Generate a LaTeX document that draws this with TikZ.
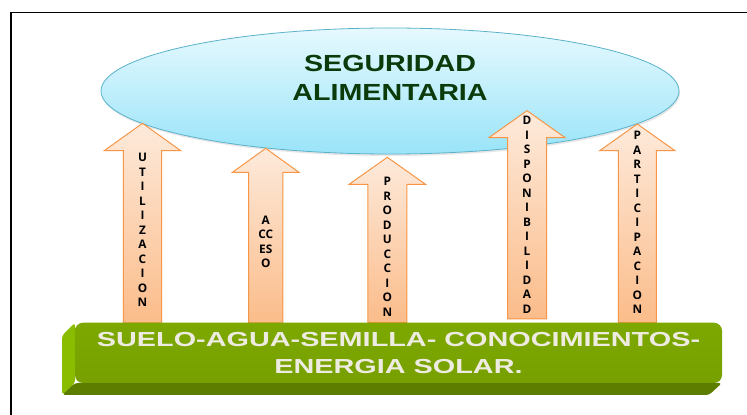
\documentclass[tikz,border=0pt]{standalone}
\usepackage{fontspec}
\usetikzlibrary{shapes.geometric,shadows}
\newfontfamily\titlefont[FakeStretch=1.23]{Liberation Sans}
\newfontfamily\barfont[FakeStretch=1.42]{Liberation Sans}
\newfontfamily\letterfont{Open Sans}
\definecolor{titlegreen}{HTML}{0B3B0B}
\definecolor{ellline}{HTML}{5AB2CB}
\definecolor{elltop}{HTML}{E6F9FE}
\definecolor{ellbot}{HTML}{9AE4F9}
\definecolor{arrowline}{HTML}{F79646}
\definecolor{arrowtop}{HTML}{FDEADB}
\definecolor{arrowbot}{HTML}{FBBC8A}
\definecolor{barface}{HTML}{77A000}
\definecolor{barfacetop}{HTML}{7DA800}
\definecolor{barside}{HTML}{8ABD00}
\definecolor{barbottom}{HTML}{5D7D00}
\definecolor{bartext}{HTML}{EEEBE1}

\begin{document}
\begin{tikzpicture}[x=1pt,y=1pt,
    arrowbox/.style={draw=arrowline,line width=1pt,top color=arrowtop,bottom color=arrowbot},
    lettertxt/.style={font=\letterfont\bfseries\fontsize{11.8}{14.5}\selectfont,align=center,inner sep=0pt,text=black}]
    \providecommand{\titlesize}{\fontsize{23.3}{29}\selectfont}
    \providecommand{\barsize}{\fontsize{20.3}{27}\selectfont}
    % block arrow: x, bottom, head base, tip, shaft half width, head half width
    \providecommand{\uparr}[6]{\path[arrowbox] (#1-#5,#2) -- (#1-#5,#3) -- (#1-#6,#3) -- (#1,#4) -- (#1+#6,#3) -- (#1+#5,#3) -- (#1+#5,#2) -- cycle;}
    \useasboundingbox (0,0) rectangle (747,415);
    \draw[line width=1.8pt] (11,0) -- (11,402.5) -- (747,402.5);

    \node[ellipse,draw=ellline,line width=0.8pt,top color=elltop,bottom color=ellbot,
        minimum width=578pt,minimum height=126pt,inner sep=0pt,
        drop shadow={shadow xshift=1pt,shadow yshift=-2pt,opacity=0.2}] (seg) at (390,324) {};
    \node[font=\titlefont\bfseries\titlesize,text=titlegreen,align=center] (segtxt) at ([yshift=13.5pt]seg.center) {SEGURIDAD\\ALIMENTARIA};

    \uparr{142.5}{92}{264.3}{291.7}{19.2}{38.3}
    \uparr{265.7}{92}{242.7}{266.7}{17.2}{33.2}
    \uparr{387.3}{92.3}{230.7}{257.7}{19.5}{38.2}
    \uparr{527}{96}{277.3}{304.3}{19.5}{38.2}
    \uparr{637.3}{92.3}{264.3}{291}{19}{37.7}
    \node[lettertxt] (util) at (142.5,184.8) {U\\T\\I\\L\\I\\Z\\A\\C\\I\\O\\N};
    \node[lettertxt] (acc) at (265.7,173) {A\\CC\\ES\\O};
    \node[lettertxt] (prod) at (387.3,168.3) {P\\R\\O\\D\\U\\C\\C\\I\\O\\N};
    \node[lettertxt] (disp) at (527,200.3) {D\\I\\S\\P\\O\\N\\I\\B\\I\\L\\I\\D\\A\\D};
    \node[lettertxt] (part) at (637.3,192.5) {P\\A\\R\\T\\I\\C\\I\\P\\A\\C\\I\\O\\N};

    % base block
    \fill[barside,rounded corners=3] (75,92.3) -- (62,79.3) -- (62,20) -- (75,32) -- cycle;
    \fill[barbottom,rounded corners=3] (62,20) -- (709,20) -- (722,32) -- (75,32) -- cycle;
    \node[rectangle,rounded corners=8,top color=barfacetop,bottom color=barface,
        minimum width=647pt,minimum height=60.3pt,inner sep=0pt,
        font=\barfont\bfseries\barsize,text=bartext,align=center] (bar) at (398.5,62.15)
        {SUELO-AGUA-SEMILLA- CONOCIMIENTOS-\\ENERGIA SOLAR.};
\end{tikzpicture}
\end{document}
